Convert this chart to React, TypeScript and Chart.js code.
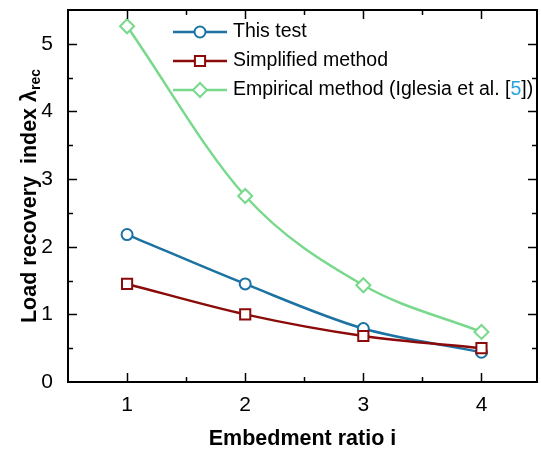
import React, { useEffect, useRef } from "react";
import { Chart, registerables } from "chart.js";

Chart.register(...registerables);

// Embedment ratio i
const ratios = [1, 2, 3, 4];
// Load recovery index for each method
const thisTest = [2.18, 1.45, 0.79, 0.44];
const simplified = [1.45, 1.0, 0.68, 0.5];
const empirical = [5.26, 2.75, 1.43, 0.74];

const xTicks = [1, 2, 3, 4];
const yTicks = [0, 1, 2, 3, 4, 5];
const seriesNames = ["This test", "Simplified method", "Empirical method (Iglesia et al. [5])"];
const colors = ["#1b72a3", "#8b0a0a", "#78d98c"];
const pointStyles = ["circle", "rect", "rectRot"];
const pointRadii = [5.5, 7.2, 7];

const FONT = "'Liberation Sans', Arial, sans-serif";

const toPoints = (ys: number[]) => ratios.map((x, i) => ({ x, y: ys[i] }));

function drawMarker(ctx: CanvasRenderingContext2D, style: string, x: number, y: number, r: number, color: string) {
  ctx.save();
  ctx.fillStyle = "#fff";
  ctx.strokeStyle = color;
  ctx.lineWidth = 2;
  ctx.beginPath();
  if (style === "circle") {
    ctx.arc(x, y, r, 0, Math.PI * 2);
  } else if (style === "rect") {
    const s = r * Math.SQRT1_2;
    ctx.rect(x - s, y - s, 2 * s, 2 * s);
  } else {
    ctx.moveTo(x - r, y);
    ctx.lineTo(x, y - r);
    ctx.lineTo(x + r, y);
    ctx.lineTo(x, y + r);
    ctx.closePath();
  }
  ctx.fill();
  ctx.stroke();
  ctx.restore();
}

const framePlugin = {
  id: "frameAndLabels",
  afterDraw(chart: any) {
    const { ctx, chartArea: a, scales } = chart;
    const xs = scales.x;
    const ys = scales.y;
    ctx.save();

    // axis box
    ctx.strokeStyle = "#000";
    ctx.lineWidth = 2;
    ctx.strokeRect(a.left, a.top, a.right - a.left, a.bottom - a.top);

    // inward ticks on all four sides
    ctx.lineWidth = 1.5;
    const line = (x1: number, y1: number, x2: number, y2: number) => {
      ctx.beginPath();
      ctx.moveTo(x1, y1);
      ctx.lineTo(x2, y2);
      ctx.stroke();
    };
    for (let v = 1; v <= 4.001; v += 0.5) {
      const px = Math.round(xs.getPixelForValue(v)) + 0.5;
      const len = Number.isInteger(v) ? 9 : 5;
      line(px, a.bottom, px, a.bottom - len);
      line(px, a.top, px, a.top + len);
    }
    for (let v = 0.5; v <= 5.001; v += 0.5) {
      const py = Math.round(ys.getPixelForValue(v)) + 0.5;
      const len = Number.isInteger(v) ? 9 : 5;
      line(a.left, py, a.left + len, py);
      line(a.right, py, a.right - len, py);
    }

    // x-axis title
    ctx.fillStyle = "#000";
    ctx.font = `bold 21.5px ${FONT}`;
    ctx.textAlign = "center";
    ctx.textBaseline = "middle";
    ctx.fillText("Embedment ratio i", (a.left + a.right) / 2, 439);

    // y-axis title with subscript
    const main = "Load recovery  index \u03bb";
    const sub = "rec";
    ctx.font = `bold 21.5px ${FONT}`;
    const wMain = ctx.measureText(main).width;
    ctx.font = `bold 14px ${FONT}`;
    const wSub = ctx.measureText(sub).width;
    const total = wMain + wSub;
    ctx.translate(28, (a.top + a.bottom) / 2);
    ctx.rotate(-Math.PI / 2);
    ctx.textAlign = "left";
    ctx.textBaseline = "alphabetic";
    ctx.font = `bold 21.5px ${FONT}`;
    ctx.fillText(main, -total / 2, 8);
    ctx.font = `bold 14px ${FONT}`;
    ctx.fillText(sub, -total / 2 + wMain, 12);
    ctx.setTransform(1, 0, 0, 1, 0, 0);

    // legend
    const rows = [32, 61, 90];
    ctx.font = `19.5px ${FONT}`;
    ctx.textBaseline = "middle";
    ctx.textAlign = "left";
    seriesNames.forEach((name, i) => {
      const yy = rows[i];
      ctx.strokeStyle = colors[i];
      ctx.lineWidth = 2.5;
      line(173, yy, 227, yy);
      drawMarker(ctx, pointStyles[i], 200, yy, pointRadii[i], colors[i]);
      ctx.fillStyle = "#000";
      const m = name.match(/^(.*\[)(\d+)(\].*)$/);
      if (m) {
        let x0 = 233;
        ctx.fillText(m[1], x0, yy);
        x0 += ctx.measureText(m[1]).width;
        ctx.fillStyle = "#29a3dc";
        ctx.fillText(m[2], x0, yy);
        x0 += ctx.measureText(m[2]).width;
        ctx.fillStyle = "#000";
        ctx.fillText(m[3], x0, yy);
      } else {
        ctx.fillText(name, 233, yy);
      }
    });

    ctx.restore();
  },
};

export default function App() {
  const canvasRef = useRef<HTMLCanvasElement | null>(null);

  useEffect(() => {
    const canvas = canvasRef.current;
    if (!canvas) return;
    const series = [thisTest, simplified, empirical];
    const chart = new Chart(canvas, {
      type: "line",
      data: {
        datasets: series.map((ys, i) => ({
          label: seriesNames[i],
          data: toPoints(ys),
          borderColor: colors[i],
          backgroundColor: "#ffffff",
          borderWidth: 2.5,
          pointStyle: pointStyles[i] as any,
          pointRadius: pointRadii[i],
          pointBorderWidth: 2,
          pointBorderColor: colors[i],
          pointBackgroundColor: "#ffffff",
          cubicInterpolationMode: "monotone" as const,
          fill: false,
          order: i === 0 ? 2 : i === 1 ? 1 : 0,
        })),
      },
      options: {
        responsive: false,
        animation: false,
        devicePixelRatio: 1,
        layout: { autoPadding: false, padding: { top: 10, right: 4, left: 0, bottom: 0 } },
        plugins: { legend: { display: false }, tooltip: { enabled: false } },
        scales: {
          x: {
            type: "linear",
            min: 0.5,
            max: 4.47,
            grid: { display: false, drawTicks: false },
            border: { display: false },
            afterBuildTicks: (s: any) => {
              s.ticks = xTicks.map((v) => ({ value: v }));
            },
            afterFit: (s: any) => {
              s.height = 67;
              s.paddingLeft = 0;
              s.paddingRight = 0;
            },
            ticks: {
              padding: 11,
              color: "#000",
              font: { family: FONT, size: 21 },
              maxRotation: 0,
            },
          },
          y: {
            type: "linear",
            min: 0,
            max: 5.5,
            grid: { display: false, drawTicks: false },
            border: { display: false },
            afterBuildTicks: (s: any) => {
              s.ticks = yTicks.map((v) => ({ value: v }));
            },
            afterFit: (s: any) => {
              s.width = 68;
              s.paddingTop = 0;
              s.paddingBottom = 0;
            },
            ticks: {
              padding: 15,
              color: "#000",
              font: { family: FONT, size: 21 },
            },
          },
        },
      },
      plugins: [framePlugin],
    });
    return () => chart.destroy();
  }, []);

  return (
    <div style={{ position: "absolute", left: 0, top: 0, width: 541, height: 449, background: "#fff" }}>
      <canvas ref={canvasRef} width={541} height={449} style={{ display: "block" }} />
    </div>
  );
}
